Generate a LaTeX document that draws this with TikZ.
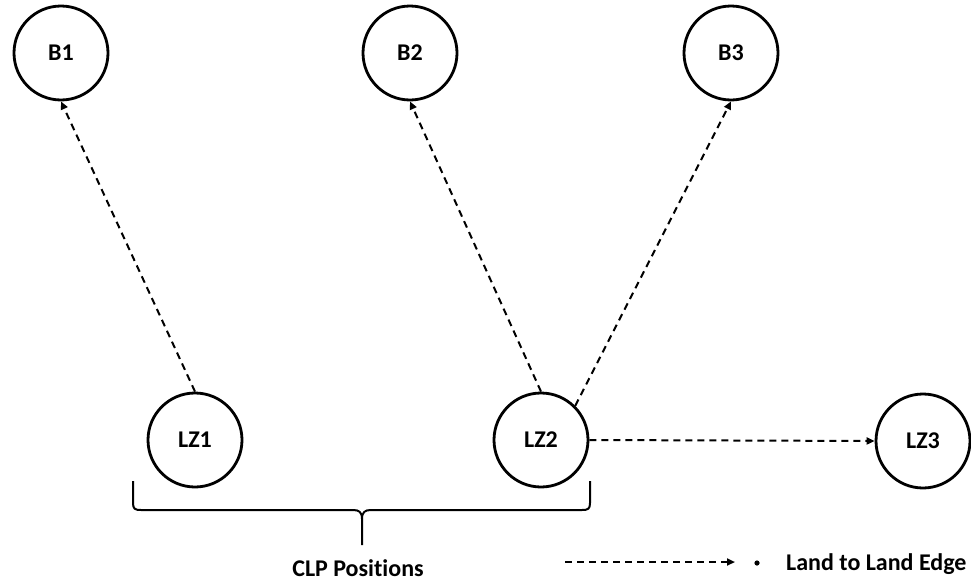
\documentclass[tikz,border=0pt]{standalone}
\usepackage{fontspec}
\setmainfont[Ligatures=CommonOff]{Carlito}
\usetikzlibrary{arrows.meta}
\begin{document}
\begin{tikzpicture}[x=1pt,y=-1pt,
  every node/.style={font=\fontsize{24}{28}\selectfont\bfseries},
  site/.style={circle,draw,line width=2.8pt,minimum size=94pt,inner sep=0pt},
  edge/.style={line width=2pt,dash pattern=on 7pt off 5pt,-{Triangle[length=8pt,width=7pt]}},
  bracestyle/.style={line width=2pt,line join=round}]
\useasboundingbox (0,0) rectangle (971,581);
\node[site] (B1) at (61,53) {B1};
\node[site] (B2) at (410,53) {B2};
\node[site] (B3) at (731,53) {B3};
\node[site] (LZ1) at (195,440) {LZ1};
\node[site] (LZ2) at (541,440) {LZ2};
\node[site] (LZ3) at (923,441) {LZ3};
\draw[edge] (LZ1.north) -- (B1.south);
\draw[edge] (LZ2.north) -- (B2.south);
\draw[edge] (LZ2.north east) -- (B3.south);
\draw[edge] (LZ2.east) -- (LZ3.west);
% brace
\coordinate (bl) at (133,481);
\coordinate (br) at (590,481);
\coordinate (bt) at (362,545);
\draw[bracestyle] (bl) -- (133,503) .. controls (133,509) and (135,510) .. (141,510) -- (353,510) .. controls (359,510) and (362,512) .. (362,519) -- (bt);
\draw[bracestyle] (br) -- (590,503) .. controls (590,509) and (588,510) .. (582,510) -- (371,510) .. controls (365,510) and (362,512) .. (362,519);
\node[inner sep=0pt] (clp) at (358,568) {CLP Positions};
% legend
\coordinate (ls) at (565,562);
\coordinate (le) at (735,562);
\draw[edge] (ls) -- (le);
\fill (757,563) circle (2.6pt);
\node[anchor=west,inner sep=0pt] (leg) at (786,564) {Land to Land Edge};
\end{tikzpicture}
\end{document}
